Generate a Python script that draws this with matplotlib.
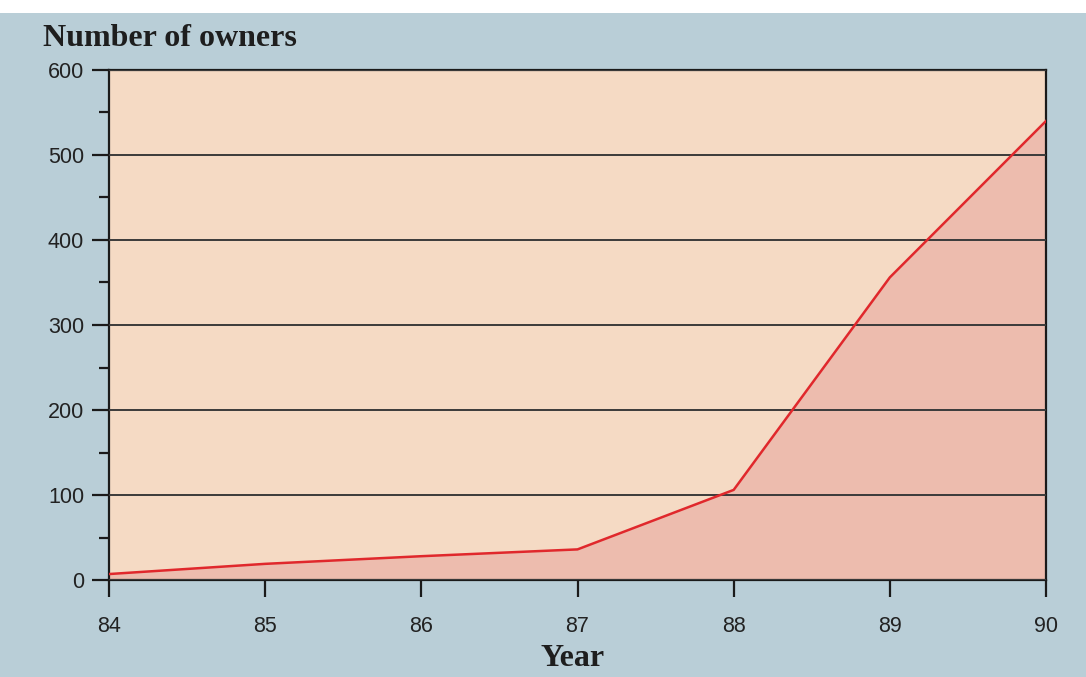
import matplotlib.pyplot as plt
from matplotlib.patches import Rectangle
from matplotlib.ticker import MultipleLocator

years = [84, 85, 86, 87, 88, 89, 90]
owners = [7, 19, 28, 36, 106, 356, 540]
y_ticks = [0, 100, 200, 300, 400, 500, 600]

BG = "#b9ced7"
PLOT_BG = "#f5dac4"
FILL = "#edbcae"
LINE = "#e0282c"

fig = plt.figure(figsize=(10.86, 6.77), dpi=100, facecolor=BG)
fig.patches.append(Rectangle((0, 1 - 13 / 677), 1, 13 / 677, transform=fig.transFigure,
                             facecolor="white", edgecolor="none", zorder=0))

ax = fig.add_axes([109 / 1086, 1 - 580 / 677, (1046 - 109) / 1086, (580 - 70) / 677])
ax.set_facecolor(PLOT_BG)

ax.fill_between(years, owners, 0, color=FILL, zorder=1)
ax.plot(years, owners, color=LINE, linewidth=1.8, zorder=3)

ax.set_xlim(84, 90)
ax.set_ylim(0, 600)
ax.set_xticks(years)
ax.set_xticklabels([str(y) for y in years])
ax.set_yticks(y_ticks)
ax.set_yticklabels([str(v) for v in y_ticks])
ax.yaxis.set_minor_locator(MultipleLocator(50))

ax.grid(True, axis="y", color="#3a3a3a", linewidth=1.4, zorder=2)
ax.set_axisbelow(False)
for spine in ax.spines.values():
    spine.set_color("#1a1a1a")
    spine.set_linewidth(1.6)

ax.tick_params(axis="both", which="major", direction="out", length=12, width=1.6,
               color="#1a1a1a", labelsize=15.5, labelcolor="#222222")
ax.tick_params(axis="x", pad=14)
ax.tick_params(axis="y", pad=6)
ax.tick_params(axis="y", which="minor", direction="out", length=7, width=1.6, color="#1a1a1a")
for label in ax.get_xticklabels() + ax.get_yticklabels():
    label.set_family("Liberation Sans")

fig.text(43 / 1086, 1 - 38 / 677, "Number of owners", family="Liberation Serif",
         fontweight="bold", fontsize=23, color="#1e1e1e", ha="left", va="center")
fig.text(573 / 1086, 1 - 659 / 677, "Year", family="Liberation Serif",
         fontweight="bold", fontsize=23, color="#1e1e1e", ha="center", va="center")

fig.savefig("out.png", dpi=100, facecolor=BG)
